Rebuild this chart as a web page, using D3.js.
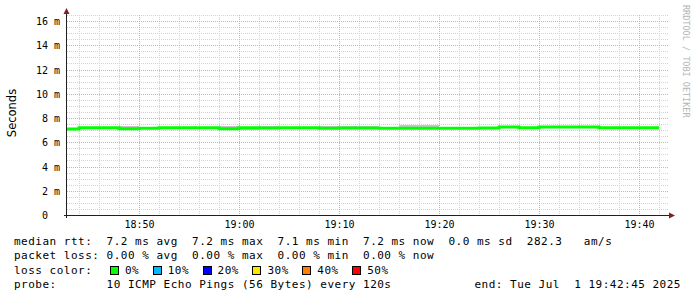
<!doctype html>
<html>
<head>
<meta charset="utf-8">
<script src="https://cdn.jsdelivr.net/npm/d3@7"></script>
<style>
  body { margin: 0; background: #fff; }
  text { font-family: "DejaVu Sans Mono", monospace; fill: #000; }
</style>
</head>
<body>
<script>
// step end times (2 min step), median rtt and smoke range (ms)
const times = ["18:44","18:46","18:48","18:50","18:52","18:54","18:56","18:58","19:00","19:02",
               "19:04","19:06","19:08","19:10","19:12","19:14","19:16","19:18","19:20","19:22",
               "19:24","19:26","19:28","19:30","19:32","19:34","19:36","19:38","19:40","19:42"];
const median = [7.10, 7.20, 7.20, 7.12, 7.15, 7.20, 7.20, 7.20, 7.12, 7.20,
                7.18, 7.20, 7.20, 7.15, 7.18, 7.18, 7.15, 7.15, 7.15, 7.15,
                7.15, 7.18, 7.25, 7.20, 7.25, 7.25, 7.25, 7.20, 7.20, 7.20];
const smokeLo = [7.05, 7.15, 7.15, 7.08, 7.10, 7.15, 7.15, 7.15, 7.08, 6.98,
                 7.12, 7.15, 7.15, 7.10, 7.12, 7.12, 7.10, 7.10, 7.10, 7.10,
                 7.10, 7.12, 7.20, 7.15, 7.20, 7.20, 7.20, 7.15, 7.15, 7.15];
const smokeHi = [7.15, 7.25, 7.25, 7.35, 7.20, 7.25, 7.25, 7.25, 7.35, 7.25,
                 7.33, 7.25, 7.25, 7.33, 7.33, 7.33, 7.20, 7.45, 7.45, 7.20,
                 7.20, 7.30, 7.30, 7.25, 7.30, 7.30, 7.30, 7.25, 7.25, 7.25];

const yTicks = [0, 2, 4, 6, 8, 10, 12, 14, 16];
const lossLabels = ["0%", "10%", "20%", "30%", "40%", "50%"];
const lossColors = ["#00ff00", "#00b8ff", "#0000ff", "#ffe600", "#ff8000", "#ff0000"];
const legendLines = [
  "median rtt:  7.2 ms avg  7.2 ms max  7.1 ms min  7.2 ms now  0.0 ms sd  282.3   am/s",
  "packet loss: 0.00 % avg  0.00 % max  0.00 % min  0.00 % now",
  "loss color:",
  "probe:       10 ICMP Echo Pings (56 Bytes) every 120s"
];
const endLabel = "end: Tue Jul  1 19:42:45 2025";

const width = 697, height = 297;
const marginLeft = 67, plotRight = 669, plotTop = 15, plotBottom = 215;

const parse = d3.utcParse("%H:%M:%S");
const t0 = parse("18:42:48"), t1 = parse("19:43:00");
const x = d3.scaleUtc([t0, t1], [marginLeft, plotRight]);
const y = d3.scaleLinear([0, 16.5], [plotBottom, plotTop]);

const data = times.map((t, i) => {
  const end = parse(t + ":00");
  const start = new Date(Math.max(+t0, +end - 120000));
  return {start, end, med: median[i], lo: smokeLo[i], hi: smokeHi[i]};
});

const svg = d3.select("body").append("svg")
    .attr("width", width)
    .attr("height", height)
    .attr("viewBox", [0, 0, width, height]);

svg.append("rect").attr("width", width).attr("height", height).attr("fill", "#fff");

// grid
const grid = svg.append("g").attr("shape-rendering", "crispEdges").attr("stroke-width", 1)
    .attr("stroke-dasharray", "1,1");
const minorY = d3.range(0.5, 16.51, 0.5).filter(v => v % 2 !== 0);
grid.append("g").attr("stroke", "#d2d2d2")
  .selectAll("line").data(minorY).join("line")
    .attr("x1", marginLeft).attr("x2", plotRight)
    .attr("y1", d => Math.round(y(d)) + 0.5).attr("y2", d => Math.round(y(d)) + 0.5);
const minorX = x.ticks(d3.utcMinute.every(2)).filter(d => d.getUTCMinutes() % 10 !== 0);
grid.append("g").attr("stroke", "#d2d2d2")
  .selectAll("line").data(minorX).join("line")
    .attr("x1", d => Math.round(x(d)) + 0.5).attr("x2", d => Math.round(x(d)) + 0.5)
    .attr("y1", plotTop).attr("y2", plotBottom);
grid.append("g").attr("stroke", "#e9a3a3")
  .selectAll("line").data(yTicks.slice(1)).join("line")
    .attr("x1", marginLeft).attr("x2", plotRight)
    .attr("y1", d => Math.round(y(d)) + 0.5).attr("y2", d => Math.round(y(d)) + 0.5);
const majorX = x.ticks(d3.utcMinute.every(10));
grid.append("g").attr("stroke", "#e9a3a3")
  .selectAll("line").data(majorX).join("line")
    .attr("x1", d => Math.round(x(d)) + 0.5).attr("x2", d => Math.round(x(d)) + 0.5)
    .attr("y1", plotTop).attr("y2", plotBottom);

// smoke
svg.append("g").attr("fill", "#c4c4c4").attr("shape-rendering", "crispEdges")
  .selectAll("rect").data(data).join("rect")
    .attr("x", d => x(d.start)).attr("width", d => x(d.end) - x(d.start))
    .attr("y", d => y(d.hi)).attr("height", d => y(d.lo) - y(d.hi));

// median line
const line = d3.line().curve(d3.curveStepBefore)
    .x(d => d[0]).y(d => d[1]);
const pts = [[x(data[0].start), y(data[0].med)]];
data.forEach(d => pts.push([x(d.end), y(d.med)]));
svg.append("path")
    .attr("fill", "none")
    .attr("stroke", lossColors[0])
    .attr("stroke-width", 3)
    .attr("d", line(pts));

// axes
svg.append("line").attr("x1", 64).attr("x2", plotRight).attr("y1", plotBottom + 0.5).attr("y2", plotBottom + 0.5)
    .attr("stroke", "#202020").attr("shape-rendering", "crispEdges");
svg.append("line").attr("x1", marginLeft - 0.5).attr("x2", marginLeft - 0.5).attr("y1", plotTop - 1).attr("y2", plotBottom + 3)
    .attr("stroke", "#202020").attr("shape-rendering", "crispEdges");
svg.append("path").attr("fill", "#802020")
    .attr("d", `M${plotRight},${plotBottom - 2.5}L${plotRight + 6},${plotBottom + 0.5}L${plotRight},${plotBottom + 3.5}Z`);
svg.append("path").attr("fill", "#802020")
    .attr("d", `M${marginLeft - 3.5},${plotTop - 1}L${marginLeft - 0.5},${plotTop - 7}L${marginLeft + 2.5},${plotTop - 1}Z`);

// tick labels
svg.append("g").attr("font-size", 10).attr("text-anchor", "end")
  .selectAll("text").data(yTicks).join("text")
    .style("white-space", "pre")
    .attr("x", 60).attr("y", d => y(d) + 4)
    .text(d => d === 0 ? "0  " : `${d} m`);
svg.append("g").attr("font-size", 10).attr("text-anchor", "middle")
  .selectAll("text").data(majorX).join("text")
    .attr("x", d => x(d) + 0.5).attr("y", 228)
    .text(d3.utcFormat("%H:%M"));

// titles
svg.append("text")
    .attr("transform", "translate(15.5,113) rotate(-90)")
    .attr("text-anchor", "middle")
    .style("font-family", "'DejaVu Sans', sans-serif")
    .attr("font-size", 11.5)
    .text("Seconds");
svg.append("text")
    .attr("transform", "translate(683,5) rotate(90)")
    .attr("font-size", 8.5)
    .style("fill", "#b4b4b4")
    .text("RRDTOOL / TOBI OETIKER");

// legend
const lineY = [245, 259.3, 273.6, 288];
const charW = 7.12;
const legend = svg.append("g").attr("font-size", 11).attr("letter-spacing", 0.5);
legend.selectAll("text.l").data(legendLines).join("text")
    .attr("class", "l")
    .style("white-space", "pre")
    .attr("x", 14).attr("y", (d, i) => lineY[i])
    .text(d => d);
legend.append("text")
    .attr("x", 681).attr("y", lineY[3]).attr("text-anchor", "end")
    .style("white-space", "pre")
    .text(endLabel);

let bx = 110;
lossLabels.forEach((lab, i) => {
  legend.append("rect")
      .attr("x", bx + 0.5).attr("y", 266.5).attr("width", 8).attr("height", 8)
      .attr("fill", lossColors[i]).attr("stroke", "#000").attr("shape-rendering", "crispEdges");
  legend.append("text").attr("x", bx + 15).attr("y", lineY[2]).text(lab);
  bx += 15 + lab.length * charW + 13.5;
});
</script>
</body>
</html>
